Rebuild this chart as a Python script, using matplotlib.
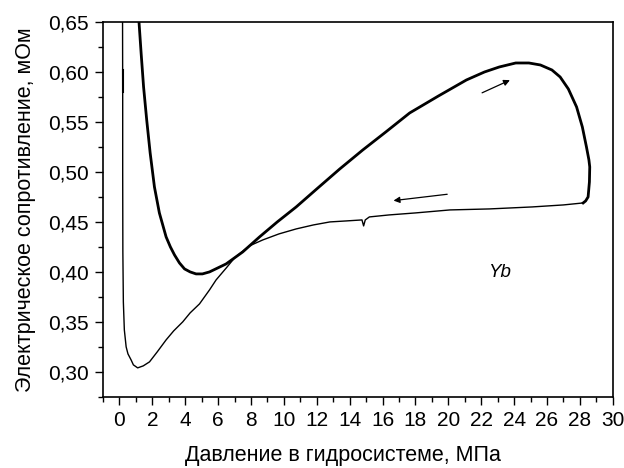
import numpy as np
import matplotlib
matplotlib.use("Agg")
import matplotlib.pyplot as plt
from matplotlib.ticker import MultipleLocator, FuncFormatter

plt.rcParams.update({
    "font.family": ["Liberation Sans", "DejaVu Sans"],
    "font.size": 14,
})

# loading branch (thick), pressure MPa -> resistance mOhm
load_p = [1.15, 1.32, 1.47, 1.66, 1.87, 2.13, 2.43, 2.84, 3.1, 3.35, 3.65, 3.96, 4.3,
          4.66, 5.05, 5.48, 6.49, 7.5, 8.52, 9.6, 10.75, 12.0, 13.4, 14.8, 16.2, 17.65,
          19.4, 21.1, 22.2, 23.1, 24.1, 24.9, 25.6, 26.3, 26.8, 27.3, 27.8, 28.15, 28.4,
          28.55, 28.6, 28.58, 28.5, 28.35, 28.2]
load_r = [0.66, 0.619, 0.585, 0.552, 0.519, 0.485, 0.459, 0.435, 0.425, 0.417, 0.409,
          0.403, 0.400, 0.398, 0.398, 0.400, 0.408, 0.420, 0.435, 0.450, 0.465, 0.483,
          0.503, 0.522, 0.540, 0.559, 0.576, 0.592, 0.600, 0.605, 0.609, 0.609, 0.607,
          0.602, 0.595, 0.583, 0.565, 0.545, 0.525, 0.512, 0.505, 0.490, 0.475, 0.471,
          0.469]

# unloading branch (thin)
unload_p = [28.2, 27.0, 25.1, 22.5, 20.1, 18.0, 16.4, 15.2, 14.95, 14.85, 14.75, 13.8,
            12.8, 11.8, 10.75, 9.7, 8.72, 7.9, 7.0, 6.5, 5.88, 5.48, 4.87, 4.3, 3.85,
            3.3, 2.84, 2.3, 1.83, 1.45, 1.11, 0.85, 0.71, 0.52, 0.41, 0.3, 0.24,
            0.21, 0.2, 0.2, 0.19]
unload_r = [0.469, 0.467, 0.465, 0.463, 0.462, 0.459, 0.457, 0.455, 0.452, 0.446, 0.452,
            0.451, 0.450, 0.447, 0.443, 0.438, 0.432, 0.426, 0.414, 0.404, 0.392, 0.382,
            0.368, 0.359, 0.350, 0.341, 0.332, 0.320, 0.310, 0.306, 0.304, 0.307, 0.312,
            0.318, 0.325, 0.342, 0.370, 0.420, 0.500, 0.580, 0.66]

# short overlapping stroke on the steep thin branch
spike_p = [0.2, 0.2]
spike_r = [0.580, 0.602]

fig = plt.figure(figsize=(6.24, 4.68), dpi=100)
ax = fig.add_axes([0.165, 0.152, 0.817, 0.801])

ax.plot(unload_p, unload_r, color="black", lw=1.0)
ax.plot(spike_p, spike_r, color="black", lw=1.5)
ax.plot(load_p, load_r, color="black", lw=2.0)

# direction arrows
ax.annotate("", xy=(23.9, 0.593), xytext=(21.9, 0.578),
            arrowprops=dict(arrowstyle="-|>", color="black", lw=0.9,
                            mutation_scale=9))
ax.annotate("", xy=(16.5, 0.471), xytext=(20.1, 0.478),
            arrowprops=dict(arrowstyle="-|>", color="black", lw=0.9,
                            mutation_scale=9))

ax.text(23.1, 0.399, "Yb", style="italic", ha="center", va="center", fontsize=13.5)

ax.set_xlim(-1, 30)
ax.set_ylim(0.275, 0.65)
ax.xaxis.set_major_locator(MultipleLocator(2))
ax.xaxis.set_minor_locator(MultipleLocator(1))
ax.yaxis.set_major_locator(MultipleLocator(0.05))
ax.yaxis.set_minor_locator(MultipleLocator(0.025))
ax.yaxis.set_major_formatter(FuncFormatter(lambda v, p: f"{v:.2f}".replace(".", ",")))
ax.xaxis.set_major_formatter(FuncFormatter(lambda v, p: f"{v:.0f}"))

ax.tick_params(which="major", direction="out", length=6, width=1.0, labelsize=15, pad=4)
ax.tick_params(which="minor", direction="out", length=3.5, width=1.0)
for s in ax.spines.values():
    s.set_linewidth(1.2)

ax.set_xlabel("Давление в гидросистеме, МПа", fontsize=15.5)
ax.xaxis.set_label_coords(0.47, -0.128)
ax.set_ylabel("Электрическое сопротивление, мОм", fontsize=15.5, labelpad=9)

fig.savefig("out.png", dpi=100)
